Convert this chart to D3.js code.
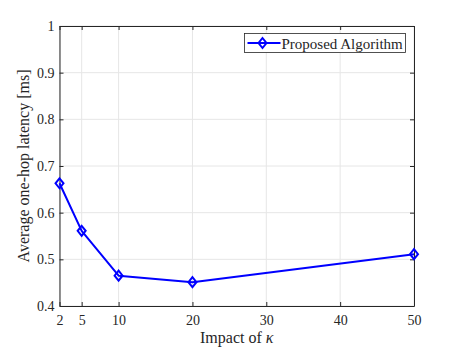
<!DOCTYPE html>
<html>
<head>
<meta charset="utf-8">
<script src="https://cdn.jsdelivr.net/npm/d3@7"></script>
<style>
  body { margin: 0; background: #fff; }
  svg text { font-family: "Liberation Serif", "Times New Roman", serif; fill: #262626; }
</style>
</head>
<body>
<svg id="chart"></svg>
<script>
// data
const kappa = [2, 5, 10, 20, 50];
const latency = [0.663, 0.561, 0.465, 0.451, 0.511];
const xTicks = [2, 5, 10, 20, 30, 40, 50];
const yTicks = [0.4, 0.5, 0.6, 0.7, 0.8, 0.9, 1];
const seriesName = 'Proposed Algorithm';

const width = 457, height = 347;
const margin = {top: 26, right: 43, bottom: 41, left: 59.5};
const w = width - margin.left - margin.right;
const h = height - margin.top - margin.bottom;

const svg = d3.select('#chart').attr('width', width).attr('height', height);
const chart = svg.append('g').attr('transform', `translate(${margin.left},${margin.top})`);

const x = d3.scaleLinear().domain([2, 50]).range([0, w]);
const y = d3.scaleLinear().domain([0.4, 1]).range([h, 0]);

// grid
chart.append('g').selectAll('line').data(xTicks).join('line')
  .attr('x1', d => x(d)).attr('x2', d => x(d)).attr('y1', 0).attr('y2', h)
  .attr('stroke', '#e6e6e6').attr('stroke-width', 1);
chart.append('g').selectAll('line').data(yTicks).join('line')
  .attr('y1', d => y(d)).attr('y2', d => y(d)).attr('x1', 0).attr('x2', w)
  .attr('stroke', '#e6e6e6').attr('stroke-width', 1);

// axes (inner ticks, box on all sides)
const tick = 4;
const xAxis = d3.axisBottom(x).tickValues(xTicks).tickSizeInner(-tick).tickSizeOuter(0).tickPadding(9);
const yAxis = d3.axisLeft(y).tickValues(yTicks).tickSizeInner(-tick).tickSizeOuter(0).tickPadding(5)
  .tickFormat(d => d === 1 ? '1' : d3.format('.1f')(d));

const styleAxis = g => {
  g.attr('font-family', null).attr('font-size', null);
  g.selectAll('.domain').attr('stroke', '#262626');
  g.selectAll('.tick line').attr('stroke', '#262626');
  g.selectAll('text').style('font-size', '14px').style('font-family', '"Liberation Serif", serif').attr('fill', '#262626');
};

chart.append('g').attr('transform', `translate(0,${h})`).call(xAxis).call(styleAxis);
chart.append('g').call(yAxis).call(styleAxis);
chart.append('g').call(d3.axisTop(x).tickValues(xTicks).tickSizeInner(-tick).tickSizeOuter(0).tickFormat(''))
  .call(styleAxis);
chart.append('g').attr('transform', `translate(${w},0)`)
  .call(d3.axisRight(y).tickValues(yTicks).tickSizeInner(-tick).tickSizeOuter(0).tickFormat(''))
  .call(styleAxis);

// axis labels
const xl = svg.append('text')
  .attr('x', margin.left + w / 2).attr('y', 342.5)
  .attr('text-anchor', 'middle').style('font-size', '16px');
xl.append('tspan').text('Impact of ');
xl.append('tspan').attr('font-style', 'italic').text('κ');

svg.append('text')
  .attr('transform', `translate(29,${margin.top + h / 2}) rotate(-90)`)
  .attr('text-anchor', 'middle').style('font-size', '16px')
  .text('Average one-hop latency [ms]');

// series
const pts = kappa.map((k, i) => [k, latency[i]]);
const blue = '#0000ff';
chart.append('path').datum(pts)
  .attr('fill', 'none').attr('stroke', blue).attr('stroke-width', 2)
  .attr('stroke-linejoin', 'round')
  .attr('d', d3.line().x(d => x(d[0])).y(d => y(d[1])));

const diamond = (cx, cy, r) => `M${cx},${cy - r}L${cx + r * 0.8},${cy}L${cx},${cy + r}L${cx - r * 0.8},${cy}Z`;
chart.selectAll('.pt').data(pts).join('path')
  .attr('class', 'pt')
  .attr('d', d => diamond(x(d[0]), y(d[1]), 5))
  .attr('fill', 'none').attr('stroke', blue).attr('stroke-width', 2);

// legend
const lg = svg.append('g').attr('transform', 'translate(244.5,33.5)');
lg.append('rect').attr('width', 161).attr('height', 19)
  .attr('fill', '#fff').attr('stroke', '#262626').attr('stroke-width', 0.8);
lg.append('line').attr('x1', 3).attr('x2', 36).attr('y1', 9.5).attr('y2', 9.5)
  .attr('stroke', blue).attr('stroke-width', 2);
lg.append('path').attr('d', diamond(18, 9.5, 5)).attr('fill', 'none').attr('stroke', blue).attr('stroke-width', 2);
lg.append('text').attr('x', 37).attr('y', 15).style('font-size', '15px').text(seriesName);
</script>
</body>
</html>
